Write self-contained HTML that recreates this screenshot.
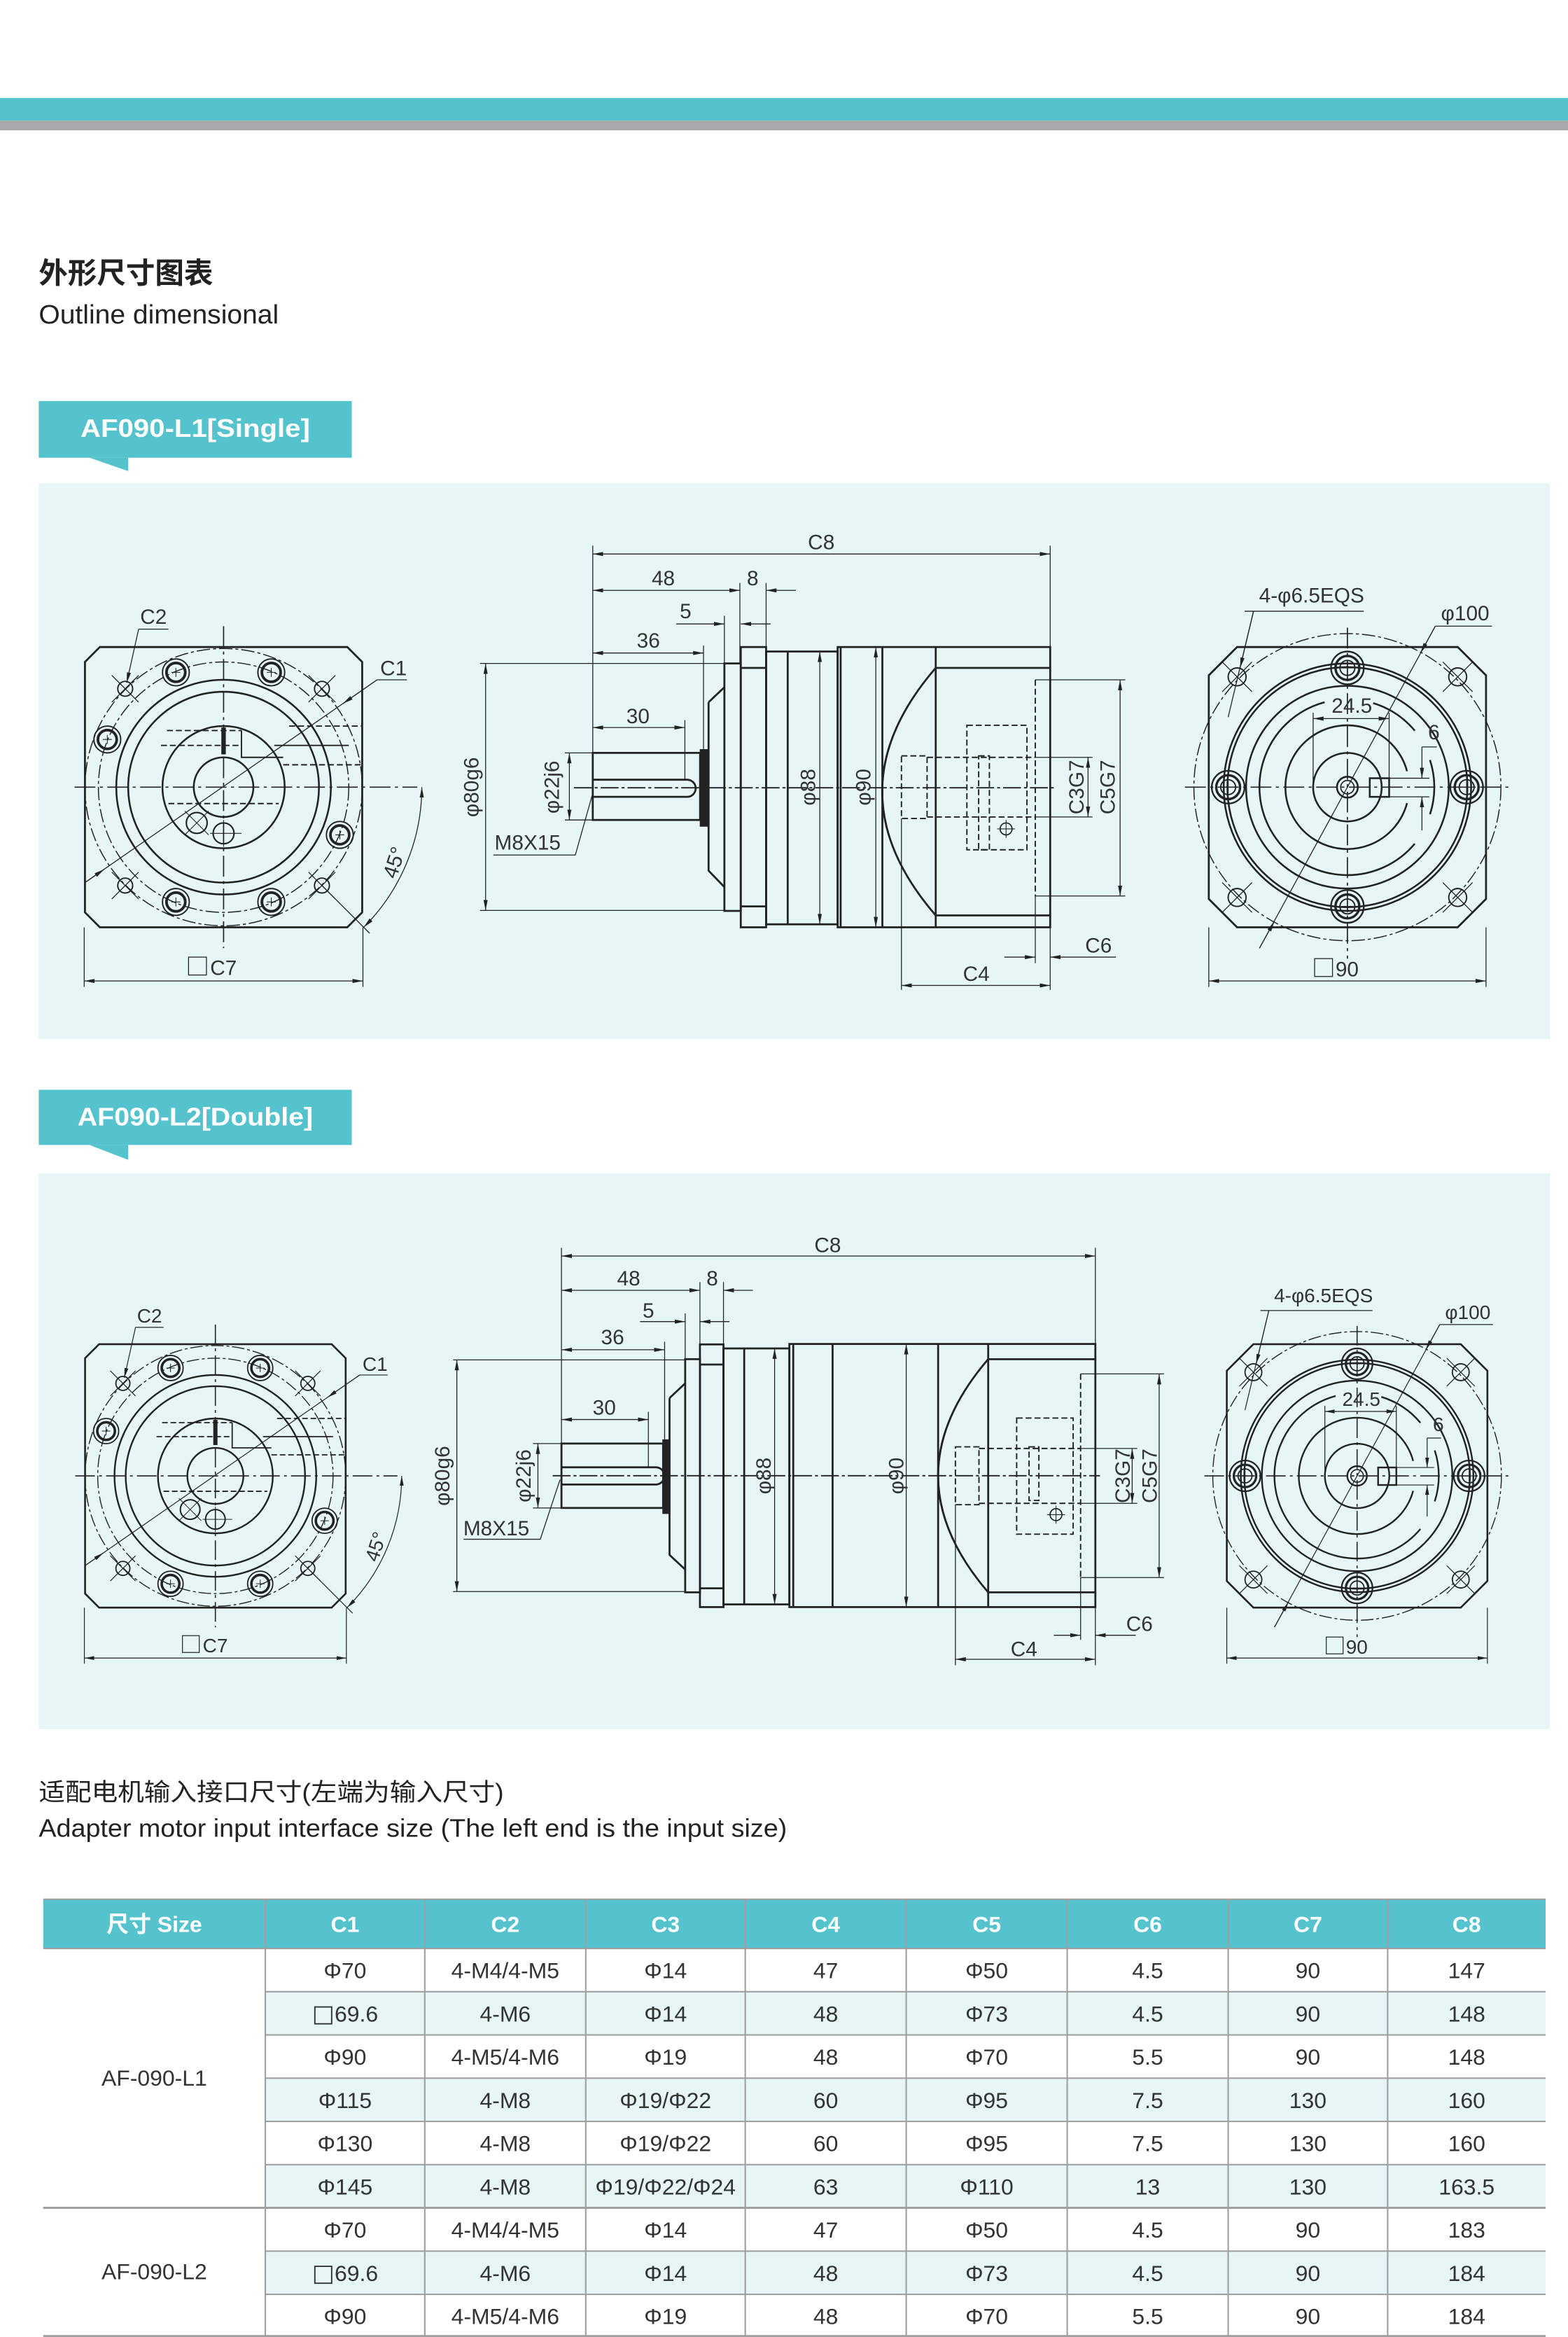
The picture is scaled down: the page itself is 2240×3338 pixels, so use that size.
<!DOCTYPE html>
<html><head><meta charset="utf-8"><style>
html,body{margin:0;padding:0;background:#fff}
svg{display:block}
text{font-family:"Liberation Sans","Noto Sans CJK SC",sans-serif}
</style></head><body>
<svg xmlns="http://www.w3.org/2000/svg" xmlns:xlink="http://www.w3.org/1999/xlink" width="2240" height="3338" viewBox="0 0 1052 1567.6">
<defs>
<marker id="a" viewBox="0 0 10 4" refX="10" refY="2" markerWidth="7" markerHeight="2.8" markerUnits="userSpaceOnUse" orient="auto-start-reverse"><path d="M0,0L10,2L0,4z" fill="#222"/></marker>
<g id="bolt"><circle r="9" stroke-width="0.9"/><circle r="6.3" stroke-width="1.8"/><path d="M-3,0H3M0,-3V3" stroke-width="0.5"/></g>
<g id="sh"><circle r="5" stroke-width="0.9"/><path d="M-9,-9L9,9M-9,9L9,-9" stroke-width="0.6"/></g>
<g id="rbolt"><circle r="11" stroke-width="1.1"/><circle r="8" stroke-width="1.6"/><circle r="5" stroke-width="0.9"/><path d="M-4,0H4M0,-4V4" stroke-width="0.6"/></g>
<g id="rsh"><circle r="6" stroke-width="0.9"/><path d="M-10,-10L10,10M-10,10L10,-10" stroke-width="0.6"/></g>

<g id="LV">
 <g fill="none" stroke="#222">
  <path d="M-83,-94H83L93,-84V84L83,94H-83L-93,84V-84Z" stroke-width="1.3"/>
  <g stroke-width="0.7" stroke-dasharray="9 2 2 2"><circle r="93"/><circle r="84"/></g>
  <g stroke-width="1.2"><circle r="72"/><circle r="64"/><circle r="41"/><circle r="20"/></g>
  <path d="M-100,0H130M0,-108V108" stroke-width="0.8" stroke-dasharray="14 3 2 3"/>
  <g stroke-dasharray="4 2" stroke-width="0.9"><path d="M44,-41H93M40,-15H93M-38,-38H12M-42,-28H12M-37,11H37"/></g>
  <path d="M34,-28H84M12,-38V-20H40" stroke-width="0.9"/>
  <path d="M0,-40V-22" stroke-width="3"/>
  <use href="#bolt" x="-32" y="-77"/><use href="#bolt" x="32" y="-77"/>
  <use href="#bolt" x="-78" y="-32"/><use href="#bolt" x="78" y="32"/>
  <use href="#bolt" x="-32" y="77"/><use href="#bolt" x="32" y="77"/>
  <use href="#sh" x="-66" y="-66"/><use href="#sh" x="66" y="-66"/>
  <use href="#sh" x="-66" y="66"/><use href="#sh" x="66" y="66"/>
  <circle cx="-18" cy="24" r="7" stroke-width="1"/><path d="M-26,16L-10,32M-26,32L-10,16" stroke-width="0.5"/>
  <circle cx="0" cy="31" r="7" stroke-width="1"/><path d="M-9,31H12M0,22V40" stroke-width="0.5"/>
  <g stroke-width="0.6">
   <path d="M-57,-106H-37"/><path d="M-57,-106L-65,-70" marker-end="url(#a)"/>
   <path d="M103,-72H123"/><path d="M103,-72L-93,64"/>
   <path d="M103,-72L80,-56" marker-end="url(#a)"/><path d="M-93,64L-80,55" marker-end="url(#a)"/>
   <path d="M133,0A133,133 0 0 1 94,94" marker-start="url(#a)" marker-end="url(#a)"/>
   <path d="M66,66L98,98"/>
   <path d="M-93.5,94V134M93.5,94V134"/>
   <path d="M-93.5,130H93.5" marker-start="url(#a)" marker-end="url(#a)"/>
   <rect x="-23.5" y="114" width="12" height="12"/>
  </g>
 </g>
 <g fill="#333" font-size="14">
  <text x="-47" y="-109.5" text-anchor="middle">C2</text>
  <text x="114" y="-75" text-anchor="middle">C1</text>
  <text transform="translate(119,52) rotate(-72)" text-anchor="middle">45°</text>
  <text x="-9" y="126">C7</text>
 </g>
</g>

<g id="RV">
 <g fill="none" stroke="#222">
  <path d="M-74,-94H74L93,-75V75L74,94H-74L-93,75V-75Z" stroke-width="1.3"/>
  <circle r="103" stroke-width="0.7" stroke-dasharray="9 2 2 2"/>
  <g stroke-width="1.2"><circle r="83"/><circle r="80.5"/><circle r="68"/><circle r="23"/><circle r="7"/><circle r="4.5" stroke-width="0.8"/></g>
  <path d="M45.2,37.9A59,59 0 1 1 -15.3,-57 M17.3,-56.4A59,59 0 0 1 45.2,-37.9 M55.4,-18.2A58.3,58.3 0 0 1 55.4,18.2" stroke-width="1.2"/>
  <path d="M40,10.7A41.5,41.5 0 1 1 40,-10.7" stroke-width="1.2"/>
  <path d="M-109,0H109M0,-107V115" stroke-width="0.8" stroke-dasharray="14 3 2 3"/>
  <use href="#rbolt" x="0" y="-80"/><use href="#rbolt" x="0" y="80"/>
  <use href="#rbolt" x="-80" y="0"/><use href="#rbolt" x="80" y="0"/>
  <use href="#rsh" x="-74" y="-74"/><use href="#rsh" x="74" y="-74"/>
  <use href="#rsh" x="-74" y="74"/><use href="#rsh" x="74" y="74"/>
  <rect x="15" y="-6" width="13" height="12.5" stroke-width="1.2"/>
  <g stroke-width="0.6">
   <path d="M-23,-50V0M28,-50V-6M28,-6H55M28,6.5H55"/>
   <path d="M-23,-46H28" marker-start="url(#a)" marker-end="url(#a)"/>
   <path d="M50,-27V-6" marker-end="url(#a)"/><path d="M50,29V6.5" marker-end="url(#a)"/>
   <path d="M50,-27H60"/>
   <path d="M-69,-118H11"/><path d="M-63,-118L-80,-47"/>
   <path d="M-63,-118L-72,-80" marker-end="url(#a)"/>
   <path d="M59,-108H97"/><path d="M59,-108L-59,108"/>
   <path d="M59,-108L49,-90" marker-end="url(#a)"/><path d="M-59,108L-49,90" marker-end="url(#a)"/>
   <path d="M-93,94V134M93,94V134"/>
   <path d="M-93,130H93" marker-start="url(#a)" marker-end="url(#a)"/>
   <rect x="-22" y="115" width="12" height="12"/>
  </g>
 </g>
 <g fill="#333" font-size="14">
  <text x="-24" y="-124" text-anchor="middle">4-φ6.5EQS</text>
  <text x="79" y="-112" text-anchor="middle">φ100</text>
  <text x="3" y="-50" text-anchor="middle">24.5</text>
  <text x="58" y="-32" text-anchor="middle">6</text>
  <text x="-8" y="127">90</text>
 </g>
</g>
</defs>

<rect x="0" y="65.7" width="1052" height="15.2" fill="#55c3cd"/>
<rect x="0" y="80.9" width="1052" height="6.5" fill="#a7a9ac"/>

<text x="26" y="190" font-size="19.5" font-weight="600" fill="#222">外形尺寸图表</text>
<text x="26" y="217" font-size="18" fill="#222" textLength="161" lengthAdjust="spacingAndGlyphs">Outline dimensional</text>

<rect x="26" y="269" width="210" height="38" fill="#55c3cd"/>
<path d="M60,307H86V316Z" fill="#55c3cd"/>
<text x="131" y="293" font-size="17" font-weight="bold" fill="#fff" text-anchor="middle" textLength="154" lengthAdjust="spacingAndGlyphs">AF090-L1[Single]</text>

<rect x="26" y="324" width="1014" height="373" fill="#e6f5f5"/>

<use href="#LV" x="150" y="528"/>
<use href="#RV" x="904" y="528"/>

<g fill="none" stroke="#222">
 <g stroke-width="1.3">
  <rect x="397.7" y="505" width="72" height="45"/>
  <path d="M397.7,523H461A5.75,5.75 0 0 1 461,534.5H397.7"/>
  <path d="M475.4,471L486,461M475.4,471V584L486,595"/>
  <rect x="486" y="445" width="11" height="166"/>
  <rect x="497" y="434" width="17" height="188"/>
  <path d="M497,448H514M497,608H514"/>
  <rect x="514" y="437" width="48" height="183"/>
  <path d="M528.5,437V620"/>
  <rect x="562" y="434" width="142.6" height="188"/>
  <path d="M564,434V622M592,434V622M627.8,434V622"/>
  <path d="M627.8,448Q556,531 627.8,614"/>
  <path d="M627.8,448H704.6M627.8,614H704.6"/>
 </g>
 <rect x="470" y="503" width="5" height="51" fill="#222"/>
 <g stroke-dasharray="4 2" stroke-width="0.9">
  <path d="M694.6,456V601"/>
  <rect x="604.8" y="507" width="17.2" height="42"/>
  <rect x="648.7" y="486.5" width="40.3" height="83.5"/>
  <path d="M622,508H694.6M622,548H694.6"/>
  <rect x="656.6" y="507" width="7.2" height="63"/>
 </g>
 <circle cx="675" cy="556" r="4" stroke-width="0.8"/><path d="M669,556H681M675,550V562" stroke-width="0.5"/>
 <path d="M385,528.4H708.6" stroke-width="0.9" stroke-dasharray="12 2 2 2"/>
 <g stroke-width="0.6">
  <path d="M397.7,366V505M704.6,366V434"/>
  <path d="M397.7,371.6H704.6" marker-start="url(#a)" marker-end="url(#a)"/>
  <path d="M496.4,391V445M514,391V434"/>
  <path d="M397.7,396H496.4" marker-start="url(#a)" marker-end="url(#a)"/>
  <path d="M534,396H514" marker-end="url(#a)"/>
  <path d="M486,413V445"/>
  <path d="M453.7,418.5H486" marker-end="url(#a)"/><path d="M517,418.5H497" marker-end="url(#a)"/>
  <path d="M472,433V503"/>
  <path d="M397.7,438H472" marker-start="url(#a)" marker-end="url(#a)"/>
  <path d="M459.5,483V523"/>
  <path d="M397.7,488H459.5" marker-start="url(#a)" marker-end="url(#a)"/>
  <path d="M322,445H486M322,610.7H486"/>
  <path d="M325.8,445V610.7" marker-start="url(#a)" marker-end="url(#a)"/>
  <path d="M379,505H397.7M379,550H397.7"/>
  <path d="M382,505V550" marker-start="url(#a)" marker-end="url(#a)"/>
  <path d="M550,437V620" marker-start="url(#a)" marker-end="url(#a)"/>
  <path d="M587.6,434V622" marker-start="url(#a)" marker-end="url(#a)"/>
  <path d="M694.6,508H733M694.6,548H733"/>
  <path d="M730,508V548" marker-start="url(#a)" marker-end="url(#a)"/>
  <path d="M694.6,456H755M694.6,601H755"/>
  <path d="M751.5,456V601" marker-start="url(#a)" marker-end="url(#a)"/>
  <path d="M673.8,642H694.6" marker-end="url(#a)"/><path d="M748.7,642H704.6" marker-end="url(#a)"/>
  <path d="M604.8,549V664M694.6,601V646M704.6,622V664"/>
  <path d="M604.8,661H704.6" marker-start="url(#a)" marker-end="url(#a)"/>
  <path d="M331,573.5H386L398,531"/>
 </g>
</g>
<g fill="#333" font-size="14" text-anchor="middle">
 <text x="551" y="368.5">C8</text>
 <text x="445" y="392.7">48</text>
 <text x="505" y="392.7">8</text>
 <text x="460" y="414.7">5</text>
 <text x="435" y="434.5">36</text>
 <text x="428" y="485">30</text>
 <text x="354" y="569.8">M8X15</text>
 <text x="737" y="639">C6</text>
 <text x="655" y="658">C4</text>
 <text transform="translate(321,528) rotate(-90)">φ80g6</text>
 <text transform="translate(375,528) rotate(-90)">φ22j6</text>
 <text transform="translate(547,528) rotate(-90)">φ88</text>
 <text transform="translate(584,528) rotate(-90)">φ90</text>
 <text transform="translate(727,528) rotate(-90)">C3G7</text>
 <text transform="translate(748,528) rotate(-90)">C5G7</text>
</g>

<rect x="26" y="731" width="210" height="37" fill="#55c3cd"/>
<path d="M60,768H86V778Z" fill="#55c3cd"/>
<text x="131" y="755" font-size="17" font-weight="bold" fill="#fff" text-anchor="middle" textLength="158" lengthAdjust="spacingAndGlyphs">AF090-L2[Double]</text>

<rect x="26" y="787" width="1014" height="373" fill="#e6f5f5"/>

<g transform="translate(144.5,990) scale(0.94)"><use href="#LV"/></g>
<g transform="translate(910.5,990) scale(0.94)"><use href="#RV"/></g>

<g fill="none" stroke="#222">
 <g stroke-width="1.3">
  <rect x="376.7" y="968.3" width="68.2" height="43.2"/>
  <path d="M376.7,984.2H440A5.8,5.8 0 0 1 440,995.8H376.7"/>
  <path d="M449.2,937.8L459.7,927.9M449.2,937.8V1043L459.7,1052.8"/>
  <rect x="459.7" y="911.7" width="9.9" height="156.4"/>
  <rect x="469.6" y="901.8" width="15.8" height="176.2"/>
  <path d="M469.6,915.3H485.4M469.6,1065.4H485.4"/>
  <rect x="485.4" y="904.5" width="44.2" height="171.7"/>
  <path d="M499.3,904.5V1076.2"/>
  <rect x="529.6" y="901.5" width="205.3" height="176.5"/>
  <path d="M532.2,901.5V1078M558.6,901.5V1078M629.4,901.5V1078M663,901.5V1078"/>
  <path d="M663,911.7Q595.8,989.9 663,1068.1"/>
  <path d="M663,911.7H734.9M663,1068.1H734.9"/>
 </g>
 <rect x="444.9" y="966" width="4.3" height="49" fill="#222"/>
 <g stroke-dasharray="4 2" stroke-width="0.9">
  <path d="M725,921.6V1058.2"/>
  <rect x="641" y="970.5" width="15.8" height="38.8"/>
  <rect x="682.1" y="951.2" width="37.9" height="77.9"/>
  <path d="M656.8,971.6H725M656.8,1008.4H725"/>
  <rect x="690.4" y="970.5" width="6.6" height="36"/>
 </g>
 <circle cx="708.5" cy="1016" r="4" stroke-width="0.8"/><path d="M702.5,1016H714.5M708.5,1010V1022" stroke-width="0.5"/>
 <path d="M370.8,989.9H738" stroke-width="0.9" stroke-dasharray="12 2 2 2"/>
 <g stroke-width="0.6">
  <path d="M376.7,837V968.3M734.9,837V901.5"/>
  <path d="M376.7,842.5H734.9" marker-start="url(#a)" marker-end="url(#a)"/>
  <path d="M469.6,860V901.8M485.4,860V901.8"/>
  <path d="M376.7,865.5H469.6" marker-start="url(#a)" marker-end="url(#a)"/>
  <path d="M505.2,865.5H485.4" marker-end="url(#a)"/>
  <path d="M459.7,881V911.7"/>
  <path d="M429.4,886.5H459.7" marker-end="url(#a)"/><path d="M489.4,886.5H469.6" marker-end="url(#a)"/>
  <path d="M445.9,900V966"/>
  <path d="M376.7,905.4H445.9" marker-start="url(#a)" marker-end="url(#a)"/>
  <path d="M435,947V984"/>
  <path d="M376.7,952.2H435" marker-start="url(#a)" marker-end="url(#a)"/>
  <path d="M304,912.2H459.7M304,1067.6H459.7"/>
  <path d="M306.5,912.2V1067.6" marker-start="url(#a)" marker-end="url(#a)"/>
  <path d="M357.6,968.3H376.7M357.6,1011.5H376.7"/>
  <path d="M360.9,968.3V1011.5" marker-start="url(#a)" marker-end="url(#a)"/>
  <path d="M519.7,904.5V1076.2" marker-start="url(#a)" marker-end="url(#a)"/>
  <path d="M608,901.5V1078" marker-start="url(#a)" marker-end="url(#a)"/>
  <path d="M725,971.6H763M725,1008.4H763"/>
  <path d="M759.6,971.6V1008.4" marker-start="url(#a)" marker-end="url(#a)"/>
  <path d="M734.9,921.6H781M734.9,1058.2H781M725,921.6H734.9M725,1058.2H734.9"/>
  <path d="M777.7,921.6V1058.2" marker-start="url(#a)" marker-end="url(#a)"/>
  <path d="M707,1096.9H725" marker-end="url(#a)"/><path d="M762,1096.9H734.9" marker-end="url(#a)"/>
  <path d="M641,1009V1117M725,1058V1100M734.9,1078V1117"/>
  <path d="M641,1113H734.9" marker-start="url(#a)" marker-end="url(#a)"/>
  <path d="M311,1032.5H362.5L375.7,992.6"/>
 </g>
</g>
<g fill="#333" font-size="14" text-anchor="middle">
 <text x="555.3" y="840">C8</text>
 <text x="421.8" y="862.3">48</text>
 <text x="477.9" y="862.3">8</text>
 <text x="435" y="883.8">5</text>
 <text x="411" y="901.8">36</text>
 <text x="405.4" y="949">30</text>
 <text x="333" y="1030">M8X15</text>
 <text x="764.5" y="1094">C6</text>
 <text x="687" y="1111">C4</text>
 <text transform="translate(301.5,990) rotate(-90)">φ80g6</text>
 <text transform="translate(356,990) rotate(-90)">φ22j6</text>
 <text transform="translate(517,990) rotate(-90)">φ88</text>
 <text transform="translate(606,990) rotate(-90)">φ90</text>
 <text transform="translate(758,990) rotate(-90)">C3G7</text>
 <text transform="translate(776,990) rotate(-90)">C5G7</text>
</g>

<text x="26" y="1208" font-size="16.5" fill="#222" textLength="312" lengthAdjust="spacingAndGlyphs">适配电机输入接口尺寸(左端为输入尺寸)</text>
<text x="26" y="1232" font-size="17" fill="#222" textLength="502" lengthAdjust="spacingAndGlyphs">Adapter motor input interface size (The left end is the input size)</text>

<rect x="29" y="1274" width="1008" height="33" fill="#55c3cd"/>
<g fill="#e6f5f5">
 <rect x="178" y="1336" width="859" height="29"/>
 <rect x="178" y="1394" width="859" height="29"/>
 <rect x="178" y="1452" width="859" height="29"/>
 <rect x="178" y="1510" width="859" height="29"/>
</g>
<g stroke="#a0a0a0" stroke-width="1" fill="none">
 <path d="M29,1274H1037M29,1307H1037"/>
 <path d="M178,1336H1037M178,1365H1037M178,1394H1037M178,1423H1037M178,1452H1037M178,1510H1037M178,1539H1037"/>
 <path d="M29,1481H1037M29,1567H1037" stroke-width="1.4"/>
 <path d="M178,1274V1568M285,1274V1568M393,1274V1568M500,1274V1568M608,1274V1568M716,1274V1568M824,1274V1568M931,1274V1568"/>
</g>
<g fill="#fff" font-size="15" font-weight="bold" text-anchor="middle">
 <text x="103.5" y="1296">尺寸 Size</text>
 <text x="231.5" y="1296">C1</text><text x="339" y="1296">C2</text><text x="446.5" y="1296">C3</text><text x="554" y="1296">C4</text>
 <text x="662" y="1296">C5</text><text x="770" y="1296">C6</text><text x="877.5" y="1296">C7</text><text x="984" y="1296">C8</text>
</g>
<g fill="#333" font-size="15" text-anchor="middle" font-family="'Liberation Sans','DejaVu Sans',sans-serif">
 <text x="103.5" y="1399">AF-090-L1</text>
 <text x="103.5" y="1529">AF-090-L2</text>
 <text x="231.5" y="1327">Φ70</text><text x="339" y="1327">4-M4/4-M5</text><text x="446.5" y="1327">Φ14</text><text x="554" y="1327">47</text><text x="662" y="1327">Φ50</text><text x="770" y="1327">4.5</text><text x="877.5" y="1327">90</text><text x="984" y="1327">147</text>
 <text x="231.5" y="1356"><tspan font-family="'DejaVu Sans',sans-serif" font-size="16">□</tspan>69.6</text><text x="339" y="1356">4-M6</text><text x="446.5" y="1356">Φ14</text><text x="554" y="1356">48</text><text x="662" y="1356">Φ73</text><text x="770" y="1356">4.5</text><text x="877.5" y="1356">90</text><text x="984" y="1356">148</text>
 <text x="231.5" y="1385">Φ90</text><text x="339" y="1385">4-M5/4-M6</text><text x="446.5" y="1385">Φ19</text><text x="554" y="1385">48</text><text x="662" y="1385">Φ70</text><text x="770" y="1385">5.5</text><text x="877.5" y="1385">90</text><text x="984" y="1385">148</text>
 <text x="231.5" y="1414">Φ115</text><text x="339" y="1414">4-M8</text><text x="446.5" y="1414">Φ19/Φ22</text><text x="554" y="1414">60</text><text x="662" y="1414">Φ95</text><text x="770" y="1414">7.5</text><text x="877.5" y="1414">130</text><text x="984" y="1414">160</text>
 <text x="231.5" y="1443">Φ130</text><text x="339" y="1443">4-M8</text><text x="446.5" y="1443">Φ19/Φ22</text><text x="554" y="1443">60</text><text x="662" y="1443">Φ95</text><text x="770" y="1443">7.5</text><text x="877.5" y="1443">130</text><text x="984" y="1443">160</text>
 <text x="231.5" y="1472">Φ145</text><text x="339" y="1472">4-M8</text><text x="446.5" y="1472">Φ19/Φ22/Φ24</text><text x="554" y="1472">63</text><text x="662" y="1472">Φ110</text><text x="770" y="1472">13</text><text x="877.5" y="1472">130</text><text x="984" y="1472">163.5</text>
 <text x="231.5" y="1501">Φ70</text><text x="339" y="1501">4-M4/4-M5</text><text x="446.5" y="1501">Φ14</text><text x="554" y="1501">47</text><text x="662" y="1501">Φ50</text><text x="770" y="1501">4.5</text><text x="877.5" y="1501">90</text><text x="984" y="1501">183</text>
 <text x="231.5" y="1530"><tspan font-family="'DejaVu Sans',sans-serif" font-size="16">□</tspan>69.6</text><text x="339" y="1530">4-M6</text><text x="446.5" y="1530">Φ14</text><text x="554" y="1530">48</text><text x="662" y="1530">Φ73</text><text x="770" y="1530">4.5</text><text x="877.5" y="1530">90</text><text x="984" y="1530">184</text>
 <text x="231.5" y="1559">Φ90</text><text x="339" y="1559">4-M5/4-M6</text><text x="446.5" y="1559">Φ19</text><text x="554" y="1559">48</text><text x="662" y="1559">Φ70</text><text x="770" y="1559">5.5</text><text x="877.5" y="1559">90</text><text x="984" y="1559">184</text>
</g>
</svg>
</body></html>
